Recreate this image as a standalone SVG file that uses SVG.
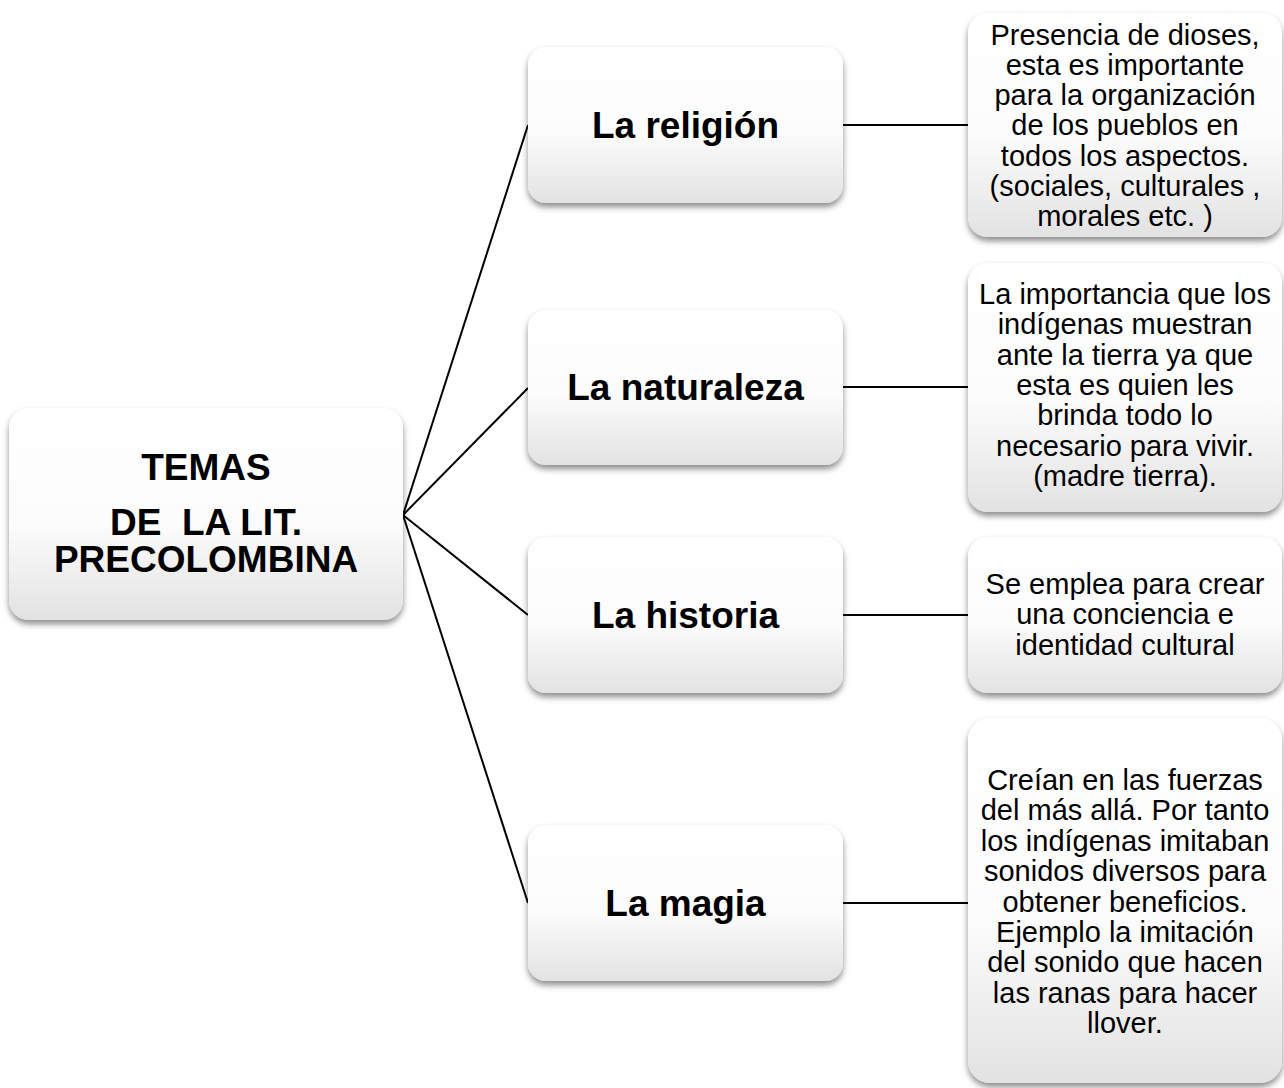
<svg xmlns="http://www.w3.org/2000/svg" width="1284" height="1088" viewBox="0 0 1284 1088">
<style>
.box{fill:url(#g);filter:url(#sh)}
.conn{stroke:#000;stroke-width:2;fill:none}
.big{font-family:"Liberation Sans",Arial,sans-serif;font-weight:bold;font-size:37px;text-anchor:middle;fill:#000}
.small{font-family:"Liberation Sans",Arial,sans-serif;font-size:29px;text-anchor:middle;fill:#000}
</style>
<defs>
<linearGradient id="g" x1="0" y1="0" x2="0" y2="1">
<stop offset="0" stop-color="#ffffff"/>
<stop offset="0.55" stop-color="#fcfcfc"/>
<stop offset="1" stop-color="#e2e2e2"/>
</linearGradient>
<filter id="sh" x="-10%" y="-10%" width="120%" height="125%">
<feDropShadow dx="0" dy="4" stdDeviation="3" flood-color="#000" flood-opacity="0.45"/>
</filter>
</defs>
<rect width="1284" height="1088" fill="#fff"/>
<g id="connectors">
<line class="conn" x1="403" y1="515" x2="528" y2="125"/>
<line class="conn" x1="403" y1="515" x2="528" y2="388"/>
<line class="conn" x1="403" y1="515" x2="528" y2="615"/>
<line class="conn" x1="403" y1="515" x2="528" y2="903"/>
<line class="conn" x1="843" y1="125" x2="968" y2="125"/>
<line class="conn" x1="843" y1="387" x2="968" y2="387"/>
<line class="conn" x1="843" y1="615" x2="968" y2="615"/>
<line class="conn" x1="843" y1="903" x2="968" y2="903"/>
</g>
<g id="root">
<rect class="box" x="9" y="408" width="394" height="212" rx="20"/>
<text class="big" x="206" y="480">TEMAS</text>
<text class="big" x="206" y="535" xml:space="preserve">DE  LA LIT.</text>
<text class="big" x="206" y="572">PRECOLOMBINA</text>
</g>
<g id="religion">
<rect class="box" x="528" y="47" width="315" height="156" rx="18"/>
<text class="big" x="685.5" y="138">La religión</text>
</g>
<g id="naturaleza">
<rect class="box" x="528" y="310" width="315" height="155" rx="18"/>
<text class="big" x="685.5" y="400">La naturaleza</text>
</g>
<g id="historia">
<rect class="box" x="528" y="537" width="315" height="156" rx="18"/>
<text class="big" x="685.5" y="628">La historia</text>
</g>
<g id="magia">
<rect class="box" x="528" y="825" width="315" height="156" rx="18"/>
<text class="big" x="685.5" y="916">La magia</text>
</g>
<g id="desc-religion">
<rect class="box" x="968" y="13" width="314" height="224" rx="20"/>
<text class="small" x="1125" y="44.5">Presencia de dioses,</text>
<text class="small" x="1125" y="74.8">esta es importante</text>
<text class="small" x="1125" y="105.1">para la organización</text>
<text class="small" x="1125" y="135.4">de los pueblos en</text>
<text class="small" x="1125" y="165.7">todos los aspectos.</text>
<text class="small" x="1125" y="196">(sociales, culturales ,</text>
<text class="small" x="1125" y="226.3">morales etc. )</text>
</g>
<g id="desc-naturaleza">
<rect class="box" x="968" y="263" width="314" height="249" rx="20"/>
<text class="small" x="1125" y="304">La importancia que los</text>
<text class="small" x="1125" y="334.3">indígenas muestran</text>
<text class="small" x="1125" y="364.6">ante la tierra ya que</text>
<text class="small" x="1125" y="394.9">esta es quien les</text>
<text class="small" x="1125" y="425.2">brinda todo lo</text>
<text class="small" x="1125" y="455.5">necesario para vivir.</text>
<text class="small" x="1125" y="485.8">(madre tierra).</text>
</g>
<g id="desc-historia">
<rect class="box" x="968" y="537" width="314" height="156" rx="20"/>
<text class="small" x="1125" y="594">Se emplea para crear</text>
<text class="small" x="1125" y="624.3">una conciencia e</text>
<text class="small" x="1125" y="654.6">identidad cultural</text>
</g>
<g id="desc-magia">
<rect class="box" x="968" y="718" width="314" height="365" rx="22"/>
<text class="small" x="1125" y="790">Creían en las fuerzas</text>
<text class="small" x="1125" y="820.4">del más allá. Por tanto</text>
<text class="small" x="1125" y="850.8">los indígenas imitaban</text>
<text class="small" x="1125" y="881.2">sonidos diversos para</text>
<text class="small" x="1125" y="911.6">obtener beneficios.</text>
<text class="small" x="1125" y="942">Ejemplo la imitación</text>
<text class="small" x="1125" y="972.4">del sonido que hacen</text>
<text class="small" x="1125" y="1002.8">las ranas para hacer</text>
<text class="small" x="1125" y="1033.2">llover.</text>
</g>
</svg>
